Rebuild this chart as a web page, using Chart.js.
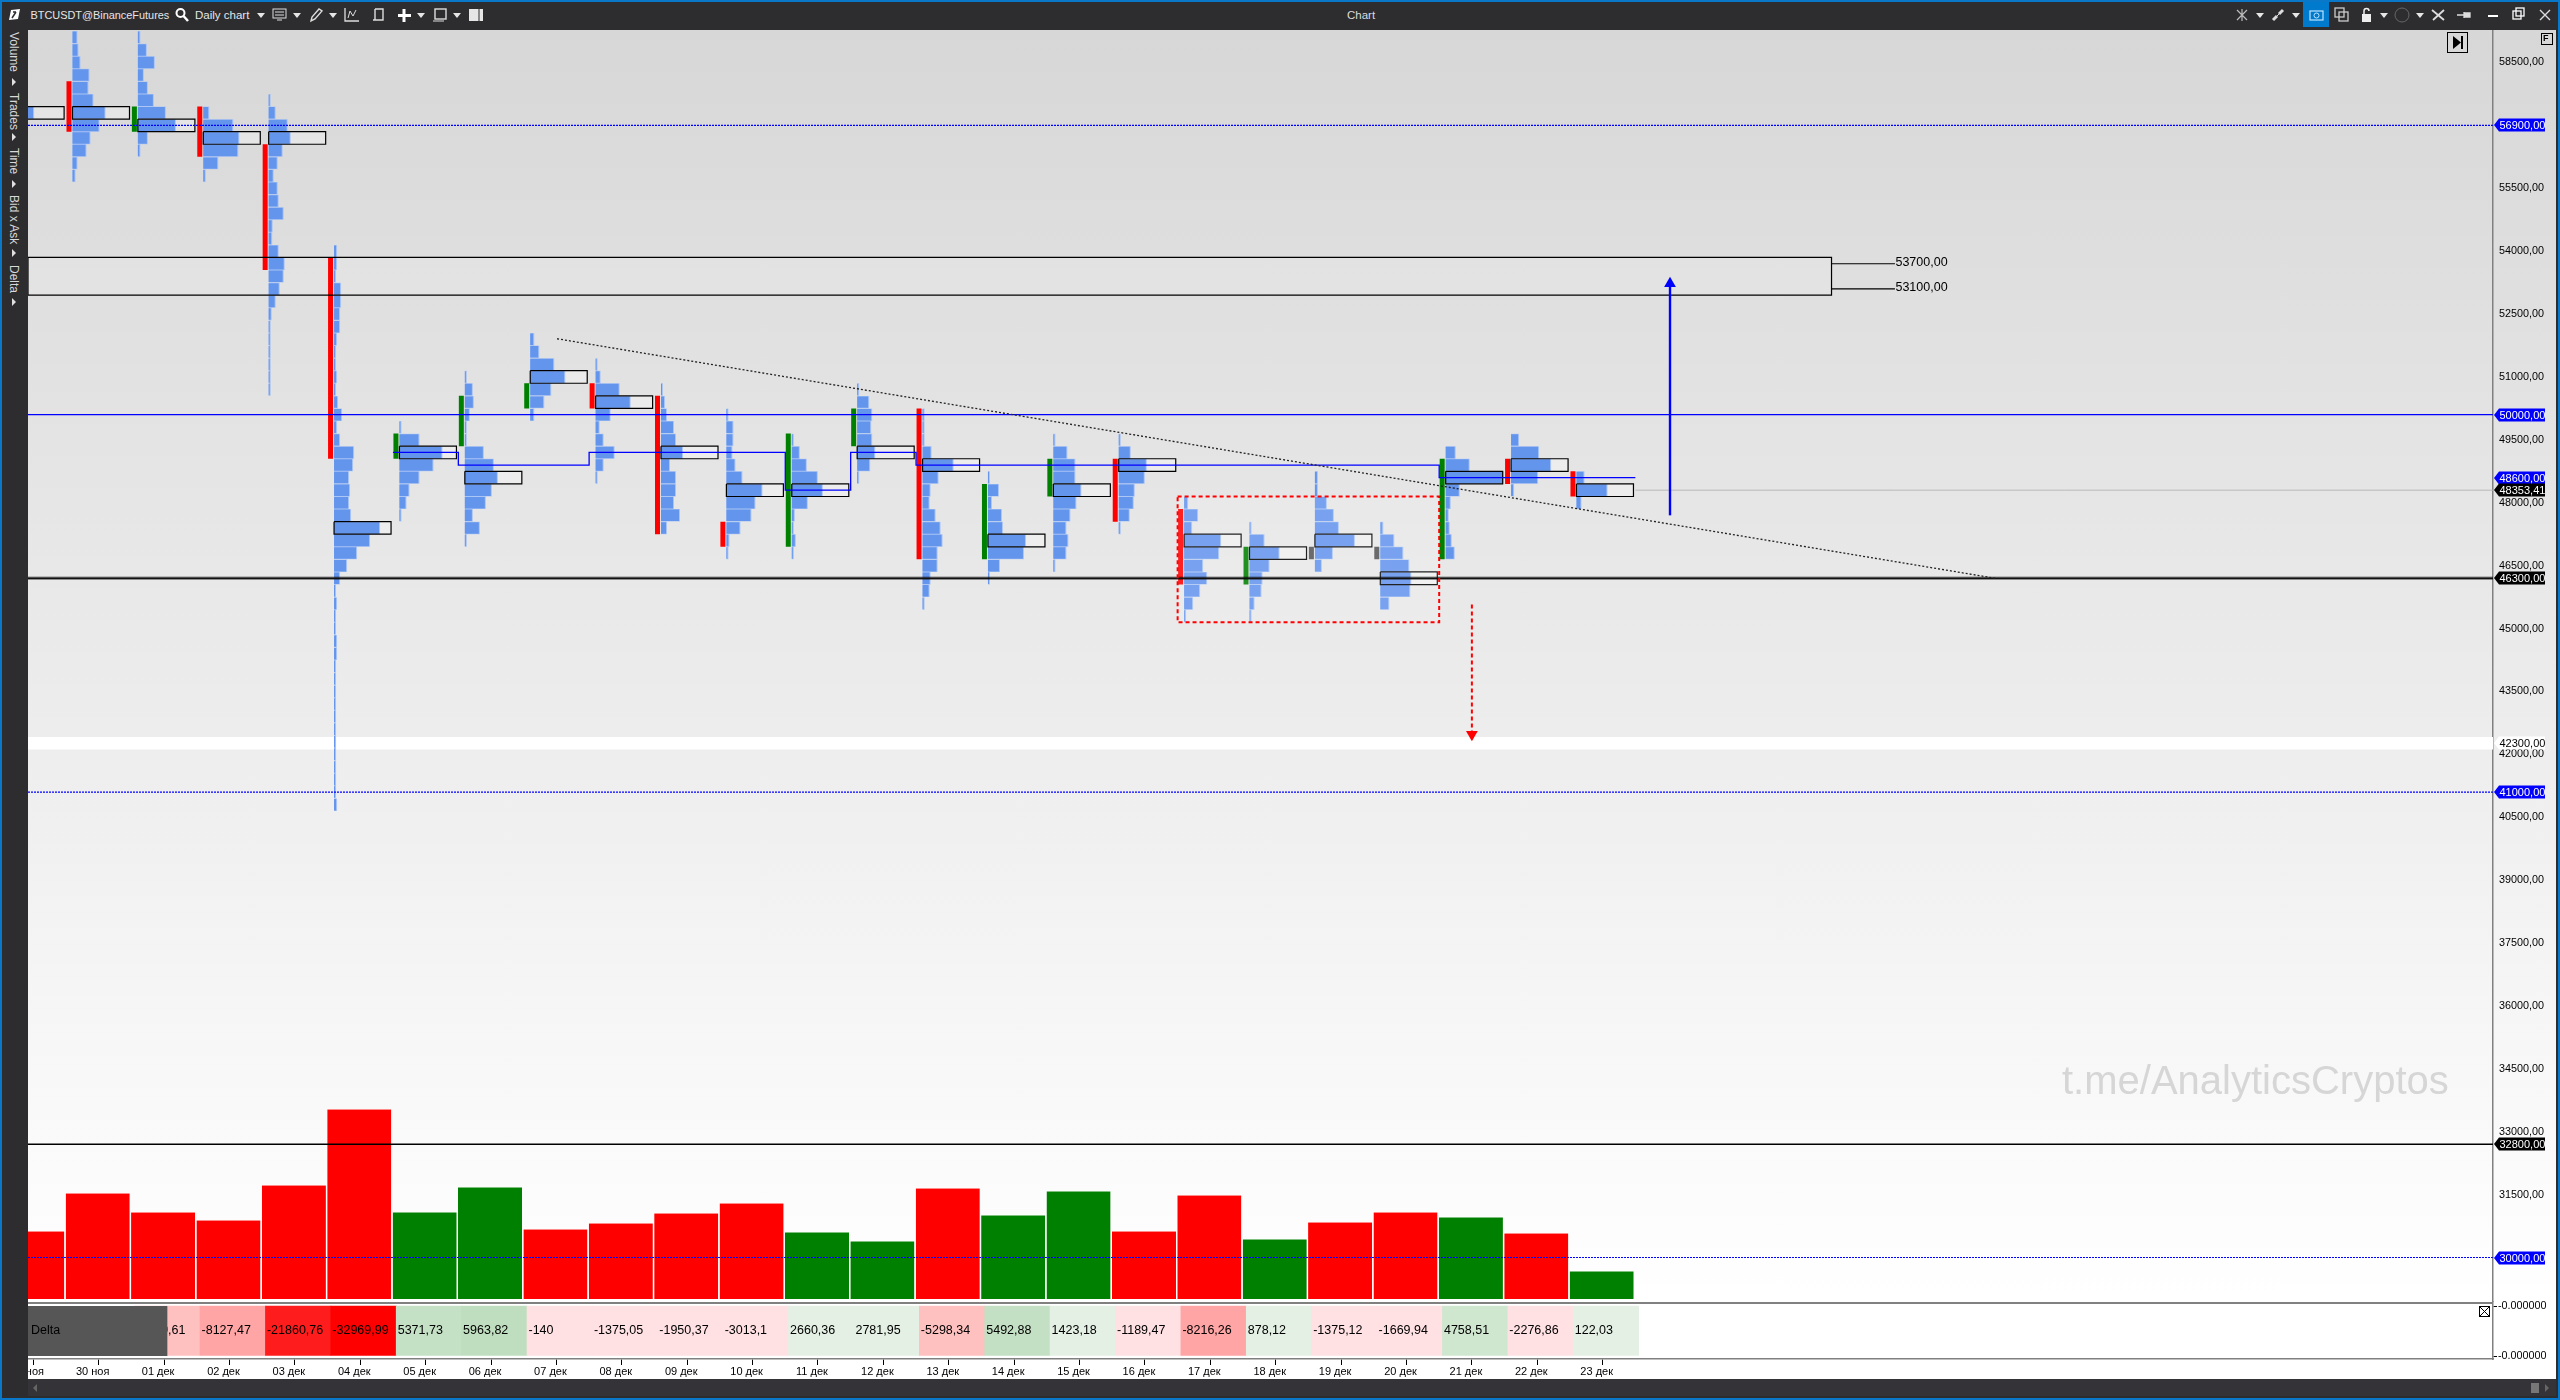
<!DOCTYPE html>
<html>
<head>
<meta charset="utf-8">
<title>BTCUSDT@BinanceFutures</title>
<script src="https://cdn.jsdelivr.net/npm/chart.js@4/dist/chart.umd.min.js"></script>
<style>
    html, body { margin: 0; padding: 0; background: #2d2d30; overflow: hidden; }
    #app { position: relative; width: 2560px; height: 1400px; overflow: hidden; font-family: "Liberation Sans", Arial, sans-serif; background: #2d2d30; }
    #panel { position: absolute; left: 28px; top: 30px; width: 2528px; height: 1272px; background: linear-gradient(#d7d7d7, #ffffff); }
    #deltaBg { position: absolute; left: 28px; top: 1302px; width: 2528px; height: 77px; background: #ffffff; }
    #sepTop { position: absolute; left: 28px; top: 1302px; width: 2465px; height: 1.5px; background: #808080; }
    canvas { position: absolute; left: 0; }
    #chart-main { top: 0; }
    #chart-delta { top: 1282px; }
    #toolbar { position: absolute; left: 0; top: 0; width: 2560px; height: 30px; background: #2d2d30; color: #e6e6e6; font-size: 11.5px; }
    #toolbar span { position: absolute; top: 9px; white-space: nowrap; }
    #toolbar svg { position: absolute; top: 7px; }
    .caret { position: absolute; top: 13px; width: 0; height: 0; border-left: 4px solid transparent; border-right: 4px solid transparent; border-top: 5px solid #e6e6e6; }
    #camera { position: absolute; left: 2303px; top: 0; width: 26px; height: 27px; background: #007acc; }
    #sidebar { position: absolute; left: 0; top: 30px; width: 28px; height: 1370px; background: #2d2d30; color: #d8d8d8; font-size: 12px; }
    #sidebar span { position: absolute; left: 7px; writing-mode: vertical-rl; white-space: nowrap; }
    .sideArrow { position: absolute; left: 12px; width: 0; height: 0; border-top: 4px solid transparent; border-bottom: 4px solid transparent; border-left: 4px solid #e0e0e0; }
    #scrollbar { position: absolute; left: 28px; top: 1379px; width: 2528px; height: 17px; background: #333338; }
    #thumb { position: absolute; left: 2503px; top: 4px; width: 8px; height: 10px; background: #777; }
    #scrollRight { position: absolute; left: 2517px; top: 5px; width: 0; height: 0; border-top: 4px solid transparent; border-bottom: 4px solid transparent; border-left: 4px solid #666; }
    #scrollLeft { position: absolute; left: 5px; top: 5px; width: 0; height: 0; border-top: 4px solid transparent; border-bottom: 4px solid transparent; border-right: 4px solid #666; }
    #frame { position: absolute; left: 0; top: 0; width: 2560px; height: 1400px; box-sizing: border-box; border: solid #0a78c8; border-width: 2px 2px 2px 2px; pointer-events: none; }
    .box { position: absolute; border: 1px solid #000; box-sizing: border-box; }
</style>
</head>
<body>
<div id="app">
    <div id="panel"></div>
    <canvas id="chart-main" width="2560" height="1322"></canvas>
    <div id="deltaBg"></div>
    <canvas id="chart-delta" width="2560" height="98"></canvas>
    <div id="sepTop"></div>

    <div id="toolbar">
        <span style="left:30.5px;font-size:10.9px">BTCUSDT@BinanceFutures</span>
        <span style="left:195px">Daily chart</span>
        <span style="left:1347px;color:#dcdcdc">Chart</span>
        <div id="camera"></div>
    </div>
    <div id="sidebar">
        <span style="top:2px">Volume</span><div class="sideArrow" style="top:48px"></div>
        <span style="top:63px">Trades</span><div class="sideArrow" style="top:103px"></div>
        <span style="top:118px">Time</span><div class="sideArrow" style="top:150px"></div>
        <span style="top:165px">Bid x Ask</span><div class="sideArrow" style="top:219px"></div>
        <span style="top:235px">Delta</span><div class="sideArrow" style="top:268px"></div>
    </div>
    <div id="scrollbar"><div id="scrollLeft"></div><div id="thumb"></div><div id="scrollRight"></div></div>

    <!-- small chart buttons -->
    <div class="box" style="left:2447px;top:32px;width:21px;height:21px">
        <svg width="19" height="19" style="position:absolute;left:0;top:0"><path d="M5 3 L13 9.5 L5 16 Z" fill="#000"/><rect x="13" y="3" width="2" height="13" fill="#000"/></svg>
    </div>
    <div class="box" style="left:2541px;top:33px;width:12px;height:12px;font-size:9px;font-weight:bold;line-height:9px;padding-left:1px">F</div>
    <div class="box" style="left:2479px;top:1306px;width:11px;height:11px">
        <svg width="9" height="9" style="position:absolute;left:0;top:0"><path d="M0 0 L9 9 M9 0 L0 9" stroke="#000"/></svg>
    </div>
    <div id="frame"></div>
</div>

<script>
/**
 * BTCUSDT daily footprint chart: one profile per day, volume bars and a delta row.
 * Two Chart.js instances share the same day axis, main panel on top and delta row below.
 */

const dayLabels = ['29 ноя', '30 ноя', '01 дек', '02 дек', '03 дек', '04 дек', '05 дек', '06 дек', '07 дек',
    '08 дек', '09 дек', '10 дек', '11 дек', '12 дек', '13 дек', '14 дек', '15 дек', '16 дек', '17 дек',
    '18 дек', '19 дек', '20 дек', '21 дек', '22 дек', '23 дек'];

const deltaValues = [null, null, -5129.61, -8127.47, -21860.76, -32969.99, 5371.73, 5963.82, -140, -1375.05,
    -1950.37, -3013.1, 2660.36, 2781.95, -5298.34, 5492.88, 1423.18, -1189.47, -8216.26, 878.12,
    -1375.12, -1669.94, 4758.51, -2276.86, 122.03];

const volumes = [68, 106, 87, 79, 114, 190, 87, 112, 70, 76, 86, 96, 67, 58, 111, 84, 108, 68, 104, 60, 77, 87, 82, 66, 28];

// candle body per day, first day is off screen
const candleHigh = [null, 58050, 57450, 57450, 56550, 53850, 49650, 50550, 50850, 50850, 50550, 47550, 49650,
    50250, 50250, 48450, 49050, 49050, 47850, 46950, 46950, 46950, 49050, 49050, 48750];
const candleLow = [null, 56850, 56850, 56250, 53550, 49050, 49050, 49350, 50250, 50250, 47250, 46950, 46950,
    49350, 46650, 46650, 48150, 47550, 46050, 46050, 46650, 46650, 46650, 48450, 48150];
const candleKinds = ['', 'down', 'up', 'down', 'down', 'down', 'up', 'up', 'up', 'down', 'down', 'down', 'up',
    'up', 'down', 'up', 'up', 'down', 'down', 'up', 'flat', 'flat', 'up', 'down', 'down'];

// volume at price: highest level of each day, then one value per 300 level going down
const profileTop = [57600, 59100, 59100, 57300, 57600, 54000, 49800, 51000, 51900, 51300, 50700, 50100, 49500,
    50700, 50100, 48600, 49500, 49500, 48000, 47400, 48600, 47400, 49200, 49500, 48600];
const profileVolumes = [
    [15, 26, 14],
    [4, 5, 7, 16, 15, 20, 32, 26, 17, 13, 4, 2],
    [1.5, 8, 16, 5, 9, 15, 27, 37, 9, 1.5],
    [5, 29, 35, 34, 14, 1.5],
    [1, 6, 18, 21, 13, 8, 4, 8, 9, 14, 3, 2.5, 9, 15, 14, 10, 6, 2, 1, 1, 1, 1, 1, 1],
    [2, 2, 1, 6, 6, 5, 5, 2, 1, 1, 2, 1, 3, 7, 2, 5, 19, 18, 14, 15, 14, 16, 45, 35, 22, 12, 5, 1, 2, 1, 1, 2, 2, 1, 1, 1, 1, 1, 1, 1, 1, 1, 1, 1, 2],
    [1, 19, 42, 33, 19, 9, 6, 1],
    [1, 7, 8, 4, 1, 1, 18, 28, 32, 26, 20, 7, 14, 1],
    [3, 8, 23, 34, 20, 13, 3],
    [1, 4, 23, 34, 14, 3, 7, 18, 7, 1],
    [1, 3, 5, 12, 14, 21, 8, 14, 14, 12, 18, 5],
    [1, 6, 6, 5, 8, 15, 35, 28, 24, 13, 2, 1],
    [1, 7, 14, 25, 30, 15, 2, 1, 3, 1],
    [1, 11, 14, 13, 14, 17, 12, 1],
    [1, 1, 1, 8, 30, 15, 7, 6, 12, 17, 19, 14, 14, 7, 6, 1],
    [1, 10, 3, 13, 14, 37, 35, 11, 1],
    [1, 13, 21, 21, 27, 22, 16, 12, 14, 12, 1],
    [1, 11, 27, 25, 15, 14, 10, 1],
    [3, 13, 7, 36, 34, 18, 22, 15, 8, 1],
    [1, 14, 29, 19, 12, 11, 4, 1],
    [2, 2, 11, 18, 23, 39, 17, 6],
    [2, 13, 22, 28, 30, 29, 8],
    [9, 23, 57, 13, 4, 2, 3, 5, 8],
    [7, 27, 39, 26, 2],
    [7, 30, 4]
];

const tickPrices = [58500, 55500, 54000, 52500, 51000, 49500, 48000, 46500, 45000, 43500, 42000, 40500, 39000,
    37500, 36000, 34500, 33000, 31500];

// stepped line of the developing value
const stepDays = [5.5, 6.5, 8.5, 11.5, 12.5, 13.5, 21.5, 24.5];
const stepPrices = [49200, 48900, 49200, 48300, 49200, 48900, 48600, 48600];

const trendDays = [8.01, 30];
const trendPrices = [51912, 46200];

// labels on the price axis
const tagPrices = [56900, 50000, 48600, 48353.41, 46300, 42300, 41000, 32800, 30000];
const tagKinds = ['blue', 'blue', 'blue', 'black', 'black', 'white', 'blue', 'black', 'blue'];

const zoneLabels = [53700, 53100];
const zoneEndDay = 27.5;
const zoneStubDay = 28.47;
const rangeDays = [17.5, 21.5];
const rangePrices = [48150, 45150];
const whiteBandPrice = 42265;
const upArrowDay = 25.03;
const upArrowPrices = [47700, 53229];
const downArrowDay = 22;
const downArrowPrices = [45574, 42473];
const lastPriceStart = 24.5;

// geometry of the two scales
const PX_PER_DAY = 65.39;
const PX_PER_PRICE = 0.04193;
const BIN = 300;
const PRICE_AT_30 = 58500 + 32.5 / PX_PER_PRICE;
const PRICE_AT_1302 = 58500 - 1239.5 / PX_PER_PRICE;
const DAY_MIN = (28 - 33.3) / PX_PER_DAY;
const DAY_MAX = (2493 - 33.3) / PX_PER_DAY;
const ROW_PX = BIN * PX_PER_PRICE;
const BOX_PX = 57;

const COLORS = {
    up: '#008000', down: '#ff0000', flat: '#555555',
    profile: '#6495ed', profileEdge: '#abc5f4',
    line: '#0000ff', range: '#ff0000', last: '#b8b8b8'
};
const FONT = '"Liberation Sans", Arial, sans-serif';

Chart.defaults.font.family = FONT;
Chart.defaults.animation = false;

const snap = price => Math.round(price / BIN) * BIN;
const dayLeft = day => day - 0.5;
const px = value => value / PX_PER_DAY;
const money = value => value.toFixed(2).replace('.', ',');
const plainNumber = value => String(value).replace('.', ',');

function pocIndex(rows) {
    return rows.indexOf(Math.max(...rows));
}

function lineSet(points, color, width, extra) {
    return Object.assign({
        type: 'line',
        data: points,
        borderColor: color,
        borderWidth: width,
        pointRadius: 0,
        tension: 0,
        fill: false,
        borderCapStyle: 'butt',
        borderJoinStyle: 'miter',
        clip: 0,
        xAxisID: 'x',
        yAxisID: 'y'
    }, extra || {});
}

function fullWidth(price) {
    return [{ x: DAY_MIN, y: price }, { x: DAY_MAX, y: price }];
}

// Profile rows as horizontal segments, gaps between them with null points.
function profileSegments(extraPx) {
    const points = [];
    profileVolumes.forEach((rows, day) => {
        const start = dayLeft(day) + px(6.5);
        rows.forEach((vol, r) => {
            const price = profileTop[day] - r * BIN;
            points.push({ x: start, y: price }, { x: start + px(vol + extraPx), y: price }, { x: null, y: null });
        });
    });
    return points;
}

function candleSegments(kind) {
    const points = [];
    candleKinds.forEach((k, day) => {
        if (k !== kind) return;
        const x = dayLeft(day) + px(3);
        points.push({ x: x, y: candleHigh[day] }, { x: x, y: candleLow[day] }, { x: null, y: null });
    });
    return points;
}

function pocRows() {
    return profileVolumes.map((rows, day) => profileTop[day] - pocIndex(rows) * BIN);
}

function pocFills() {
    const points = [];
    pocRows().forEach((price, day) => {
        const start = dayLeft(day) + px(6.5);
        points.push({ x: start, y: price }, { x: start + px(BOX_PX), y: price }, { x: null, y: null });
    });
    return points;
}

function pocFrames() {
    const points = [];
    pocRows().forEach((price, day) => {
        const x0 = dayLeft(day) + px(6.5);
        const x1 = x0 + px(BOX_PX);
        const y0 = price + BIN / 2;
        const y1 = price - BIN / 2;
        points.push({ x: x0, y: y0 }, { x: x1, y: y0 }, { x: x1, y: y1 }, { x: x0, y: y1 }, { x: x0, y: y0 }, { x: null, y: null });
    });
    return points;
}

function rectPath(x0, x1, top, bottom) {
    return [{ x: x0, y: top }, { x: x1, y: top }, { x: x1, y: bottom }, { x: x0, y: bottom }, { x: x0, y: top }];
}

function deltaColor(v) {
    if (v === null) return 'rgba(0,0,0,0)';
    const a = Math.abs(v);
    if (v < 0) {
        if (a > 30000) return '#ff0000';
        if (a > 20000) return '#ff1c1c';
        if (a > 7000) return '#ffa5a5';
        if (a > 4000) return '#ffc0c0';
        return '#ffe0e3';
    }
    if (a > 5900) return '#bfdebf';
    if (a > 5400) return '#c4e0c4';
    if (a > 5000) return '#c5e1c5';
    if (a > 4000) return '#cfe6cf';
    return '#e4f0e4';
}

// White rectangles are strokes as thick as the price range they cover.
function zoneFill(x0, x1, high, low) {
    const mid = (high + low) / 2;
    return lineSet([{ x: x0, y: mid }, { x: x1, y: mid }], 'rgba(255,255,255,0.13)', (high - low) * PX_PER_PRICE);
}

function buildMainDatasets() {
    const zoneHigh = zoneLabels[0] + BIN / 2;
    const zoneLow = zoneLabels[1] - BIN / 2;

    // listed from bottom to top, reversed below because Chart.js paints the first one last
    const layers = [
        lineSet(fullWidth(whiteBandPrice), '#ffffff', ROW_PX),
        {
            type: 'bar',
            data: volumes.map((v, i) => ({ x: i - 0.015, y: v })),
            backgroundColor: deltaValues.map(v => (v > 0 ? COLORS.up : COLORS.down)),
            borderColor: deltaValues.map(v => (v > 0 ? '#7fbf7f' : '#ff8a8a')),
            borderWidth: { top: 1, left: 0, right: 0, bottom: 0 },
            borderSkipped: false,
            barPercentage: 0.98,
            categoryPercentage: 1,
            xAxisID: 'x',
            yAxisID: 'yVol'
        },
        zoneFill(DAY_MIN, zoneEndDay, zoneHigh, zoneLow),
        lineSet(pocFills(), 'rgba(255,255,255,0.3)', ROW_PX),
        lineSet(profileSegments(1), COLORS.profileEdge, ROW_PX - 0.1),
        lineSet(profileSegments(0), COLORS.profile, ROW_PX - 1.1),
        lineSet(candleSegments('up'), COLORS.up, 5),
        lineSet(candleSegments('down'), COLORS.down, 5),
        lineSet(candleSegments('flat'), COLORS.flat, 5),
        lineSet(pocFrames(), '#000000', 1.2),
        zoneFill(rangeDays[0], rangeDays[1], rangePrices[0], rangePrices[1]),
        lineSet(fullWidth(snap(56900)), COLORS.line, 1.2, { borderDash: [2, 1] }),
        lineSet(fullWidth(snap(50000)), COLORS.line, 1.3),
        lineSet(fullWidth(snap(41000)), COLORS.line, 1.2, { borderDash: [2, 1] }),
        lineSet(fullWidth(snap(32800)), '#000000', 1.4),
        lineSet(fullWidth(snap(30000)), COLORS.line, 1.2, { borderDash: [2, 1] }),
        lineSet(fullWidth(snap(46300)), 'rgba(0,0,0,0.4)', 3.4),
        lineSet(fullWidth(snap(46300)), '#111111', 1.6),
        lineSet([{ x: lastPriceStart, y: snap(48353.41) }, { x: DAY_MAX, y: snap(48353.41) }], COLORS.last, 1),
        lineSet(stepDays.map((d, i) => ({ x: d, y: stepPrices[i] })), COLORS.line, 1.3, { stepped: 'before' }),
        lineSet(trendDays.map((d, i) => ({ x: d, y: trendPrices[i] })), '#222222', 1.3, { borderDash: [2, 2] }),
        lineSet(rectPath(DAY_MIN, zoneEndDay, zoneHigh, zoneLow), '#000000', 1.2),
        lineSet([{ x: zoneEndDay, y: zoneLabels[0] }, { x: zoneStubDay, y: zoneLabels[0] }], '#000000', 1.2),
        lineSet([{ x: zoneEndDay, y: zoneLabels[1] }, { x: zoneStubDay, y: zoneLabels[1] }], '#000000', 1.2),
        lineSet(rectPath(rangeDays[0], rangeDays[1], rangePrices[0], rangePrices[1]), COLORS.range, 2, { borderDash: [4, 3] }),
        lineSet(upArrowPrices.map(p => ({ x: upArrowDay, y: p })), COLORS.line, 2.4, {
            pointRadius: [0, 6.8], pointStyle: 'triangle', pointBackgroundColor: COLORS.line, pointBorderWidth: 0
        }),
        lineSet(downArrowPrices.map(p => ({ x: downArrowDay, y: p })), COLORS.range, 2, {
            borderDash: [4, 3], pointRadius: [0, 6.8], pointStyle: 'triangle', pointRotation: 180,
            pointBackgroundColor: COLORS.range, pointBorderWidth: 0
        })
    ];
    return layers.reverse();
}

// Text that is not a tick: watermark, zone labels and the tags on the price axis.
const annotationsPlugin = {
    id: 'annotations',
    beforeDatasetsDraw(chart) {
        const ctx = chart.ctx;
        ctx.save();
        ctx.fillStyle = '#d6d6d6';
        ctx.font = `40px ${FONT}`;
        ctx.textBaseline = 'middle';
        ctx.fillText('t.me/AnalyticsCryptos', 2062, 1083);
        ctx.restore();
    },
    afterDatasetsDraw(chart) {
        const ctx = chart.ctx;
        const x = chart.scales.x;
        const y = chart.scales.y;
        ctx.save();
        ctx.fillStyle = '#000000';
        ctx.font = `12.5px ${FONT}`;
        ctx.textBaseline = 'middle';
        zoneLabels.forEach(price => {
            ctx.fillText(money(price), x.getPixelForValue(zoneStubDay) + 0.5, y.getPixelForValue(price) - 1);
        });
        ctx.restore();
    },
    afterDraw(chart) {
        const ctx = chart.ctx;
        const y = chart.scales.y;
        const right = chart.chartArea.right;
        ctx.save();
        ctx.font = `11px ${FONT}`;
        ctx.textBaseline = 'middle';
        tagPrices.forEach((price, i) => {
            const kind = tagKinds[i];
            const py = Math.round(y.getPixelForValue(kind === 'white' ? whiteBandPrice : snap(price)));
            ctx.fillStyle = kind === 'blue' ? '#0000ff' : kind === 'black' ? '#000000' : '#ffffff';
            ctx.beginPath();
            ctx.moveTo(right + 1, py);
            ctx.lineTo(right + 6, py - 6.5);
            ctx.lineTo(right + 52, py - 6.5);
            ctx.lineTo(right + 52, py + 6.5);
            ctx.lineTo(right + 6, py + 6.5);
            ctx.closePath();
            ctx.fill();
            ctx.fillStyle = kind === 'white' ? '#000000' : '#ffffff';
            ctx.fillText(money(price), right + 6.5, py + 0.5);
        });
        ctx.restore();
    }
};

// Delta numbers, and the grey name plate that covers the first cells.
const deltaTextPlugin = {
    id: 'deltaText',
    afterDatasetsDraw(chart) {
        const ctx = chart.ctx;
        const x = chart.scales.x;
        const y = chart.scales.y;
        const mid = y.getPixelForValue(0.5);
        ctx.save();
        ctx.font = `12.5px ${FONT}`;
        ctx.textBaseline = 'middle';
        ctx.fillStyle = '#000000';
        deltaValues.forEach((v, i) => {
            if (v === null) return;
            ctx.fillText(plainNumber(v), x.getPixelForValue(i + 0.05 - 0.5) + 1.5, mid);
        });
        const left = chart.chartArea.left;
        const plateEnd = x.getPixelForValue(2.05);
        ctx.fillStyle = '#565656';
        ctx.fillRect(left, y.getPixelForValue(1), plateEnd - left, y.getPixelForValue(0) - y.getPixelForValue(1));
        ctx.fillStyle = '#000000';
        ctx.fillText('Delta', left + 3, mid);
        ctx.restore();
    }
};

function renderMainChart() {
    const ctx = document.getElementById('chart-main').getContext('2d');
    return new Chart(ctx, {
        type: 'bar',
        data: { datasets: buildMainDatasets() },
        options: {
            responsive: false,
            layout: { padding: { left: 28, top: 30, right: 0, bottom: 20 } },
            plugins: { legend: { display: false }, tooltip: { enabled: false } },
            scales: {
                x: { type: 'linear', display: false, offset: false, min: DAY_MIN, max: DAY_MAX },
                yVol: { type: 'linear', display: false, min: -3, max: 1269 },
                y: {
                    type: 'linear',
                    position: 'right',
                    min: PRICE_AT_1302,
                    max: PRICE_AT_30,
                    afterFit(scale) { scale.width = 67; },
                    afterBuildTicks(scale) { scale.ticks = tickPrices.map(v => ({ value: v })); },
                    grid: { display: false, drawTicks: false },
                    border: { display: true, color: '#808080', width: 1.5 },
                    ticks: {
                        autoSkip: false,
                        padding: 6,
                        color: '#000000',
                        font: { size: 10.8 },
                        callback: value => money(value)
                    }
                }
            }
        },
        plugins: [annotationsPlugin]
    });
}

function renderDeltaChart() {
    const ctx = document.getElementById('chart-delta').getContext('2d');
    const days = dayLabels.map((label, i) => i);
    return new Chart(ctx, {
        type: 'bar',
        data: {
            datasets: [{
                data: deltaValues.map((v, i) => ({ x: i + 0.05, y: [0, 1] })),
                backgroundColor: deltaValues.map(deltaColor),
                barPercentage: 1,
                categoryPercentage: 1
            }]
        },
        options: {
            responsive: false,
            layout: { padding: { left: 28, top: 20, right: 0, bottom: 0 } },
            plugins: { legend: { display: false }, tooltip: { enabled: false } },
            scales: {
                x: {
                    type: 'linear',
                    offset: false,
                    min: DAY_MIN,
                    max: DAY_MAX,
                    afterFit(scale) { scale.height = 21; },
                    afterBuildTicks(scale) { scale.ticks = days.map(v => ({ value: v })); },
                    grid: { offset: false, drawOnChartArea: false, drawTicks: true, tickLength: 6, tickColor: '#000000', tickWidth: 1 },
                    border: { display: true, color: '#808080', width: 1.5 },
                    ticks: {
                        autoSkip: false,
                        maxRotation: 0,
                        padding: 0,
                        labelOffset: -6,
                        color: '#000000',
                        font: { size: 11 },
                        callback: value => dayLabels[value]
                    }
                },
                y: {
                    type: 'linear',
                    position: 'right',
                    min: -0.06,
                    max: 1.08,
                    afterFit(scale) { scale.width = 67; },
                    afterBuildTicks(scale) { scale.ticks = [{ value: 1 }, { value: 0 }]; },
                    grid: { drawOnChartArea: false, drawTicks: true, tickLength: 4, tickColor: '#000000' },
                    border: { display: true, color: '#808080', width: 1.5 },
                    ticks: {
                        autoSkip: false,
                        padding: 1,
                        color: '#000000',
                        font: { size: 10.8 },
                        callback: () => '-0.000000'
                    }
                }
            }
        },
        plugins: [deltaTextPlugin]
    });
}

// Toolbar glyphs, all drawn on a 16x16 box.
const toolbarIcons = [
    [6, '<path d="M3 13 L5 3 L14 2 L12 12 Z" fill="#fff"/><path d="M6 11 L10 5 M7 5 L10 5" stroke="#2d2d30" stroke-width="1.5"/>'],
    [174, '<circle cx="6.5" cy="6" r="4" fill="none" stroke="#fff" stroke-width="2"/><path d="M9.5 9 L14 14" stroke="#fff" stroke-width="2.5"/>'],
    [272, '<rect x="1" y="2" width="13" height="9" fill="none" stroke="#ddd"/><path d="M3 5 H12 M3 8 H12 M5 13 H10" stroke="#ddd"/>'],
    [308, '<path d="M3 14 L4 10 L11 2 L14 4 L7 12 Z" fill="none" stroke="#ddd" stroke-width="1.4"/>'],
    [344, '<path d="M1 1 V14 H15" fill="none" stroke="#ddd" stroke-width="1.3"/><path d="M4 11 L6 4 L9 9 L12 3" fill="none" stroke="#ddd"/>'],
    [370, '<path d="M5 2 H13 V13 H3 M5 2 V13" fill="none" stroke="#ddd" stroke-width="1.4"/>'],
    [396, '<path d="M8 2 V15 M2 8.5 H15" stroke="#fff" stroke-width="3"/>'],
    [432, '<rect x="3" y="2" width="11" height="10" fill="none" stroke="#ddd" stroke-width="1.4"/><path d="M1 14 H12" stroke="#ddd"/>'],
    [468, '<rect x="1" y="2" width="14" height="12" fill="#e6e6e6"/><path d="M11 2 V14" stroke="#2d2d30"/>'],
    [2234, '<path d="M3 3 L13 13 M13 3 L3 13 M8 2 V14" stroke="#bbb" stroke-width="1.2"/>'],
    [2270, '<path d="M3 13 L7 9 M9 7 L13 3" stroke="#ddd" stroke-width="3"/><path d="M6 10 L10 6" stroke="#ddd"/>'],
    [2308, '<rect x="2" y="4" width="13" height="9" fill="none" stroke="#bfe3ff" stroke-width="1.2"/><circle cx="8.5" cy="8.5" r="2.5" fill="none" stroke="#bfe3ff"/>'],
    [2334, '<rect x="1" y="1" width="9" height="9" fill="none" stroke="#ccc" stroke-width="1.3"/><rect x="5" y="5" width="9" height="9" fill="none" stroke="#ccc" stroke-width="1.3"/>'],
    [2359, '<rect x="3" y="7" width="9" height="8" fill="#eee"/><path d="M5 7 V4 A2.5 2.5 0 0 1 10 4" fill="none" stroke="#eee" stroke-width="1.5"/>'],
    [2394, '<circle cx="8" cy="8" r="7" fill="none" stroke="#666"/>'],
    [2430, '<path d="M2 3 L14 13 M14 3 L3 13" stroke="#ddd" stroke-width="1.8"/>'],
    [2456, '<path d="M1 8 H8 M8 5 V11 M8 6 H14 V10 H8" stroke="#ddd" stroke-width="1.3" fill="#ddd"/>'],
    [2485, '<path d="M3 9 H13" stroke="#fff" stroke-width="2"/>'],
    [2511, '<rect x="2" y="4" width="8" height="8" fill="none" stroke="#fff" stroke-width="1.3"/><rect x="5" y="1" width="8" height="8" fill="none" stroke="#fff" stroke-width="1.3"/>'],
    [2537, '<path d="M3 3 L13 13 M13 3 L3 13" stroke="#ddd" stroke-width="1.4"/>']
];
const toolbarCarets = [257, 293, 329, 417, 453, 2256, 2292, 2380, 2416];

function renderToolbar() {
    const bar = document.getElementById('toolbar');
    toolbarIcons.forEach(item => {
        bar.insertAdjacentHTML('beforeend', `<svg width="16" height="16" style="left:${item[0]}px">${item[1]}</svg>`);
    });
    toolbarCarets.forEach(x => {
        bar.insertAdjacentHTML('beforeend', `<div class="caret" style="left:${x}px"></div>`);
    });
}

renderToolbar();
renderMainChart();
renderDeltaChart();
</script>
</body>
</html>
